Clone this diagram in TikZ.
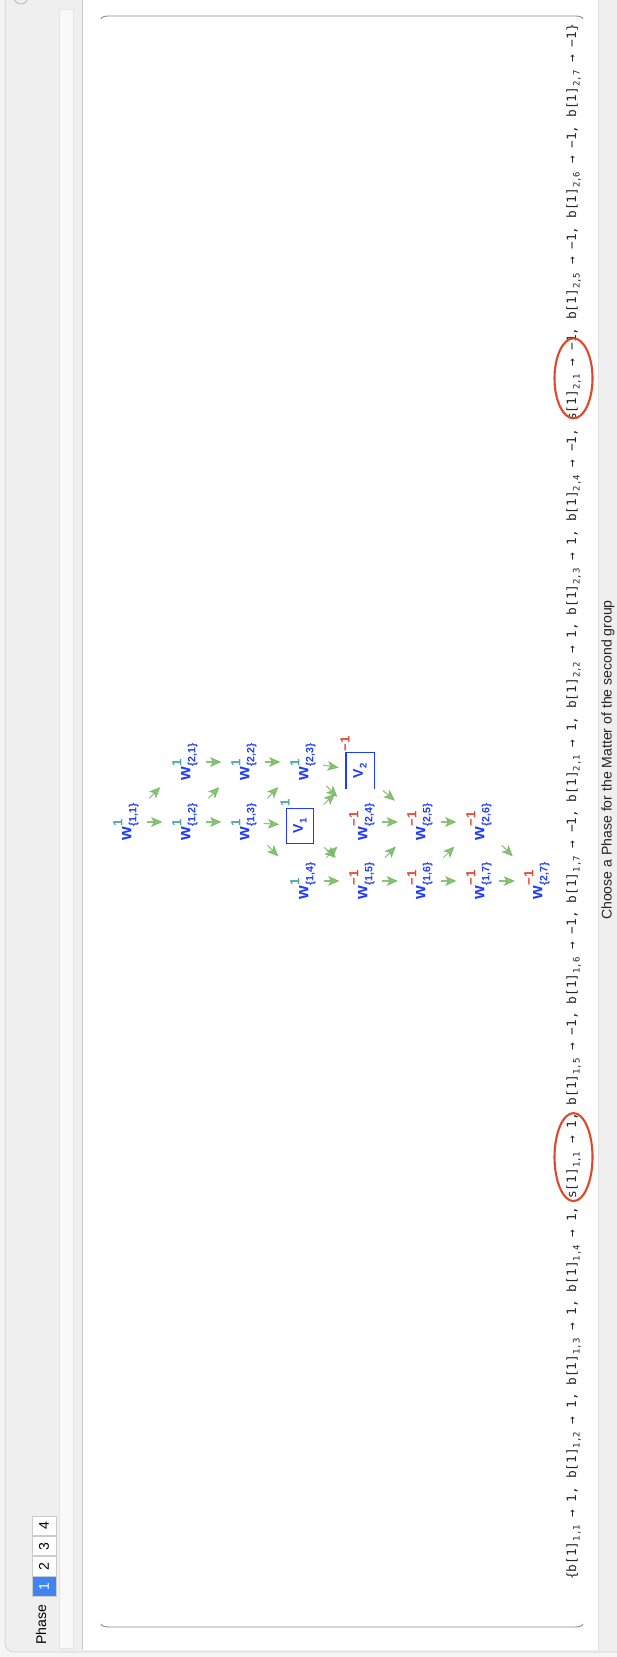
\documentclass[tikz,border=0pt]{standalone}
\usepackage{fontspec}
\setmainfont{Liberation Sans}
\newfontfamily\monofont{DejaVu Sans Mono}
\usetikzlibrary{positioning, arrows.meta, decorations.markings, calc}
\definecolor{wblue}{HTML}{1F3BFF}
\definecolor{wpos}{HTML}{4FA5A5}
\definecolor{wneg}{HTML}{E8472F}
\definecolor{edgegreen}{HTML}{76BA62}
\definecolor{ringred}{HTML}{E0482B}
\definecolor{winbg}{HTML}{F5F5F5}
\definecolor{panelbg}{HTML}{EFEFEF}
\definecolor{bandbg}{HTML}{F9F9F9}
\definecolor{tabblue}{HTML}{3F84F2}
\newcommand{\wlab}[3]{w\rlap{\raisebox{0.95ex}{\fontsize{7.5}{8}\selectfont\textcolor{#3}{#2}}}\raisebox{-0.55ex}{\fontsize{6}{7}\selectfont\{#1\}}}
\newcommand{\vsub}[1]{\raisebox{-0.5ex}{\fontsize{5.5}{6}\selectfont#1}}
\newcommand{\rul}[3]{#1[1]\raisebox{-0.5ex}{\fontsize{5.1}{6}\selectfont#2}\ →\ #3}
\tikzset{
    wnode/.style={font=\bfseries\fontsize{10}{12}\selectfont, text=wblue, inner sep=1pt},
    vbox/.style={draw=wblue, line width=0.6pt, text=wblue, font=\bfseries\fontsize{8}{10}\selectfont, minimum width=0.7cm, minimum height=0.54cm, inner sep=0pt},
    supnode/.style={font=\bfseries\fontsize{7.5}{8}\selectfont, inner sep=0pt},
    midarrow/.style={postaction={decorate}, decoration={markings, mark=at position 0.5 with {\draw[edgegreen, opacity=0.85, line width=0.6pt, -{Stealth[length=6.5pt, width=5.6pt, inset=1.6pt]}] (-5pt,0) -- (4pt,0);}}},
    listtxt/.style={font=\monofont\fontsize{7.3}{9}\selectfont, text=black!85, inner sep=0pt, outer sep=0pt},
    selring/.style={draw=ringred, line width=1.2pt},
    paren/.style={draw=black!45, line width=0.5pt},
    tabcell/.style={draw=black!20, line width=0.4pt, minimum width=0.39cm, minimum height=0.48cm, inner sep=0pt, font=\fontsize{8}{10}\selectfont},
}
\begin{document}
\begin{tikzpicture}[x=0.02cm, y=0.02cm]
\begin{scope}[rotate=90, transform shape]
\useasboundingbox (0,0) rectangle (1657,-617);
\clip (0,0) rectangle (1657,-617);
% window and panels
\fill[winbg] (0,0) rectangle (1657,-617);
\draw[black!18, fill=panelbg, rounded corners=5] (5,-5) rectangle (1690,-650);
\draw[black!10, fill=bandbg] (9,-59) rectangle (1648,-73);
\fill[white] (7,-82) rectangle (1690,-598);
\draw[black!22] (7,-82) -- (1690,-82);
\draw[black!12] (7,-598) -- (1690,-598);
\draw[black!30] (1660,-21) circle (7);
% phase control
\node[font=\fontsize{8}{10}\selectfont] (phase) at (32,-41) {Phase};
\node[tabcell, fill=tabblue, text=white] (tab1) at (70.5,-44) {1};
\foreach \n [count=\k] in {2,3,4}
    \node[tabcell, fill=white, right=0pt of tab\k] (tab\n) {\n};
% large parentheses
\draw[paren] (33,-101) .. controls (30.5,-102) and (30,-105) .. (30,-110) -- (30,-574) .. controls (30,-579) and (30.5,-582) .. (33,-583);
\draw[paren] (1638,-101) .. controls (1640.5,-102) and (1641,-105) .. (1641,-110) -- (1641,-574) .. controls (1641,-579) and (1640.5,-582) .. (1638,-583);
% graph
\node[wnode] (w11) at (835,-126) {\wlab{1,1}{1}{wpos}};
\node[wnode] (w12) at (835,-185) {\wlab{1,2}{1}{wpos}};
\node[wnode] (w21) at (895,-185) {\wlab{2,1}{1}{wpos}};
\node[wnode] (w13) at (835,-244) {\wlab{1,3}{1}{wpos}};
\node[wnode] (w22) at (895,-244) {\wlab{2,2}{1}{wpos}};
\node[wnode] (w14) at (776,-303) {\wlab{1,4}{1}{wpos}};
\node[vbox]  (V1)  at (831,-300) {V\vsub{1}};
\node[wnode] (w23) at (895,-303) {\wlab{2,3}{1}{wpos}};
\node[wnode] (w15) at (776,-362) {\wlab{1,5}{−1}{wneg}};
\node[wnode] (w24) at (835,-362) {\wlab{2,4}{−1}{wneg}};
\node[vbox, draw=none] (V2) at (886,-360) {V\vsub{2}};
\node[wnode] (w16) at (776,-420) {\wlab{1,6}{−1}{wneg}};
\node[wnode] (w25) at (835,-420) {\wlab{2,5}{−1}{wneg}};
\node[wnode] (w17) at (776,-479) {\wlab{1,7}{−1}{wneg}};
\node[wnode] (w26) at (835,-479) {\wlab{2,6}{−1}{wneg}};
\node[wnode] (w27) at (776,-537) {\wlab{2,7}{−1}{wneg}};
\draw[wblue, line width=0.6pt] (V2.north west) -- (V2.north east) -- (V2.south east) -- (V2.south west);
\node[supnode, text=wpos, anchor=south west] (V1w) at ($(V1.north east)+(1,-4)$) {1};
\node[supnode, text=wneg, anchor=south west] (V2w) at ($(V2.north east)+(1,-4)$) {−1};
\foreach \a/\b in {w11/w12, w11/w21, w12/w13, w12/w22, w21/w22, w13/V1, w13/w23, w13/w14,
    w22/w23, w23/V2, w23/w24, V1/V2, V1/w15, w14/w15, w14/w24, V2/w25, w24/w25, w15/w25,
    w15/w16, w16/w17, w16/w26, w25/w26, w17/w27, w26/w27}
    \path[midarrow] (\a) -- (\b);
% list of phases
\node[listtxt, anchor=base west] (r0) at (77,-576) {\{};
\foreach \p/\s/\v [count=\i, remember=\i as \j (initially 0)] in {b/{1,1}/1, b/{1,2}/1, b/{1,3}/1, b/{1,4}/1, s/{1,1}/1,
    b/{1,5}/−1, b/{1,6}/−1, b/{1,7}/−1, b/{2,1}/1, b/{2,2}/1, b/{2,3}/1, b/{2,4}/−1, s/{2,1}/−1,
    b/{2,5}/−1, b/{2,6}/−1, b/{2,7}/−1}
    \node[listtxt, anchor=base west] (r\i) at (r\j.base east) {\rul{\p}{\s}{\v}\ifnum\i<16 ,\kern0.6em\fi};
\node[listtxt, anchor=base west] (rend) at (r16.base east) {\}};
\draw[selring] ($(r5.center)+(-5,0)$) ellipse [x radius=44, y radius=19];
\draw[selring] ($(r13.center)+(-8,0)$) ellipse [x radius=40, y radius=19];
\node[font=\fontsize{8}{10}\selectfont, text=black!85] (hint) at (897,-608) {Choose a Phase for the Matter of the second group};
\end{scope}
\end{tikzpicture}
\end{document}
